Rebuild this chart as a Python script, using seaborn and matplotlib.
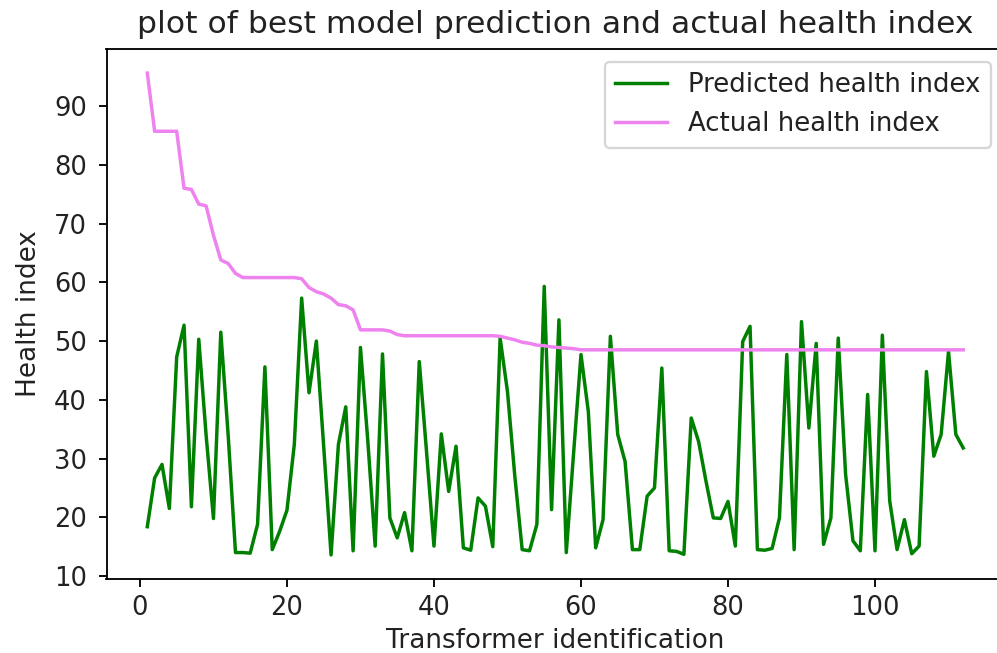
import numpy as np
import pandas as pd
import matplotlib
matplotlib.use("Agg")
import matplotlib.pyplot as plt
import seaborn as sns

transformer_id = list(range(1, 113))

predicted = [18.4, 26.7, 29.0, 21.5, 47.3, 52.7, 21.8, 50.3, 34.0, 19.8,
             51.5, 34.0, 14.0, 14.0, 13.9, 18.8, 45.6, 14.5, 17.6, 21.2,
             32.4, 57.3, 41.2, 50.0, 32.0, 13.6, 32.4, 38.8, 14.3, 48.9,
             33.0, 15.1, 47.8, 19.9, 16.5, 20.8, 14.3, 46.5, 31.0, 15.1,
             34.2, 24.4, 32.1, 14.8, 14.4, 23.3, 21.9, 15.0, 50.5, 41.4,
             27.0, 14.5, 14.3, 18.8, 59.3, 21.3, 53.6, 14.0, 31.0, 47.7,
             38.0, 14.8, 19.6, 50.8, 34.1, 29.5, 14.5, 14.5, 23.6, 25.0,
             45.4, 14.3, 14.2, 13.7, 36.9, 32.9, 26.2, 19.9, 19.8, 22.7,
             15.1, 49.9, 52.5, 14.5, 14.4, 14.7, 19.9, 47.7, 14.5, 53.3,
             35.2, 49.6, 15.4, 19.9, 50.5, 27.3, 16.0, 14.3, 40.9, 14.3,
             51.0, 22.8, 14.5, 19.6, 13.8, 15.1, 44.8, 30.4, 34.1, 48.2,
             34.1, 31.8]

actual = [95.6, 85.7, 85.7, 85.7, 85.7, 76.0, 75.8, 73.3, 73.0, 68.0,
          63.8, 63.2, 61.5, 60.8, 60.8, 60.8, 60.8, 60.8, 60.8, 60.8,
          60.8, 60.6, 59.1, 58.4, 58.0, 57.3, 56.2, 56.0, 55.3, 51.9,
          51.9, 51.9, 51.9, 51.7, 51.1, 50.9, 50.9, 50.9, 50.9, 50.9,
          50.9, 50.9, 50.9, 50.9, 50.9, 50.9, 50.9, 50.9, 50.8, 50.5,
          50.2, 49.8, 49.6, 49.3, 49.2, 49.0, 48.9, 48.8, 48.7, 48.5,
          48.5, 48.5, 48.5, 48.5, 48.5, 48.5, 48.5, 48.5, 48.5, 48.5,
          48.5, 48.5, 48.5, 48.5, 48.5, 48.5, 48.5, 48.5, 48.5, 48.5,
          48.5, 48.5, 48.5, 48.5, 48.5, 48.5, 48.5, 48.5, 48.5, 48.5,
          48.5, 48.5, 48.5, 48.5, 48.5, 48.5, 48.5, 48.5, 48.5, 48.5,
          48.5, 48.5, 48.5, 48.5, 48.5, 48.5, 48.5, 48.5, 48.5, 48.5,
          48.5, 48.5]

df = pd.DataFrame({"id": transformer_id, "pred": predicted, "actual": actual})

DPI = 166
plt.rcParams["font.family"] = ["DejaVu Sans"]
plt.rcParams["text.color"] = "#222222"
plt.rcParams["axes.labelcolor"] = "#222222"
plt.rcParams["xtick.labelcolor"] = "#222222"
plt.rcParams["ytick.labelcolor"] = "#222222"

fig = plt.figure(figsize=(997 / DPI, 653 / DPI), dpi=DPI)
ax = fig.add_axes([106.5 / 997, 74 / 653, (1004 - 106.5) / 997, (579 - 49) / 653])

sns.lineplot(data=df, x="id", y="pred", color="green", label="Predicted health index", ax=ax)
sns.lineplot(data=df, x="id", y="actual", color="violet", label="Actual health index", ax=ax)

ax.set_title("plot of best model prediction and actual health index", fontsize=13.6, pad=7)
ax.set_xlabel("Transformer identification", fontsize=11.4, labelpad=3)
ax.set_ylabel("Health index", fontsize=11.4, labelpad=5)
ax.set_xticks([0, 20, 40, 60, 80, 100])
ax.set_yticks([10, 20, 30, 40, 50, 60, 70, 80, 90])
ax.tick_params(axis="both", labelsize=11.2)
ax.tick_params(axis="y", pad=5)
ax.legend(loc="upper right", fontsize=11.3)

fig.savefig("out.png", dpi=DPI)
